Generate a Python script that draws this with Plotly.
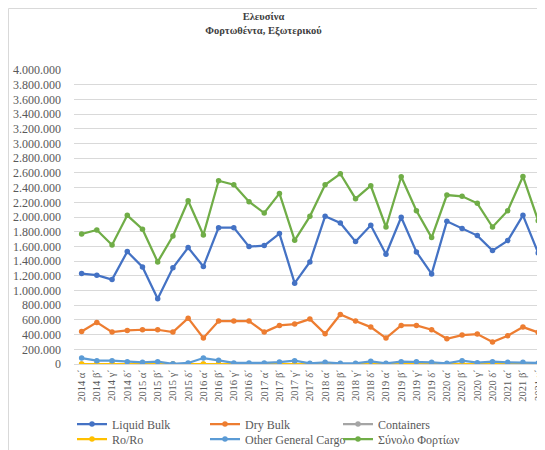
import plotly.graph_objects as go

categories = [
    "2014 α΄", "2014 β΄", "2014 γ΄", "2014 δ΄",
    "2015 α΄", "2015 β΄", "2015 γ΄", "2015 δ΄",
    "2016 α΄", "2016 β΄", "2016 γ΄", "2016 δ΄",
    "2017 α΄", "2017 β΄", "2017 γ΄", "2017 δ΄",
    "2018 α΄", "2018 β΄", "2018 γ΄", "2018 δ΄",
    "2019 α΄", "2019 β΄", "2019 γ΄", "2019 δ΄",
    "2020 α΄", "2020 β΄", "2020 γ΄", "2020 δ΄",
    "2021 α΄", "2021 β΄", "2021 γ΄", "2021 δ΄",
]
# the last category lies beyond the visible edge of the picture
visible_ticks = categories[:-1]

liquid_bulk = [1231000, 1208000, 1149000, 1529000, 1321000, 887000, 1308000, 1584000,
               1326000, 1855000, 1855000, 1597000, 1611000, 1774000, 1100000, 1389000,
               2009000, 1919000, 1665000, 1887000, 1493000, 1996000, 1525000, 1226000,
               1941000, 1842000, 1747000, 1543000, 1679000, 2023000, 1511000, 1690000]
dry_bulk = [443000, 566000, 434000, 457000, 466000, 466000, 434000, 624000,
            353000, 584000, 584000, 584000, 434000, 525000, 543000, 611000,
            412000, 674000, 584000, 502000, 353000, 525000, 525000, 466000,
            344000, 394000, 407000, 299000, 385000, 502000, 430000, 371000]
containers = [0] * 32
ro_ro = [0] * 32
other_general = [81000, 45000, 45000, 32000, 23000, 32000, 2000, 14000,
                 81000, 50000, 14000, 14000, 14000, 27000, 45000, 9000,
                 23000, 9000, 9000, 36000, 9000, 32000, 32000, 23000,
                 9000, 45000, 18000, 32000, 23000, 23000, 14000, 10000]
total = [1769000, 1824000, 1620000, 2023000, 1833000, 1389000, 1742000, 2222000,
         1756000, 2493000, 2439000, 2208000, 2054000, 2321000, 1683000, 2009000,
         2439000, 2588000, 2249000, 2425000, 1864000, 2548000, 2086000, 1720000,
         2299000, 2281000, 2186000, 1864000, 2086000, 2552000, 1950000, 2027000]

series_names = ["Liquid Bulk", "Dry Bulk", "Containers", "Ro/Ro",
                "Other General Cargo", "Σύνολο Φορτίων"]
series_values = [liquid_bulk, dry_bulk, containers, ro_ro, other_general, total]
series_colors = ["#4472C4", "#ED7D31", "#A5A5A5", "#FFC000", "#5B9BD5", "#70AD47"]
series_legends = ["legend", "legend", "legend", "legend2", "legend2", "legend2"]

y_ticks = list(range(0, 4000001, 200000))

# page body has an 8px margin: screen pixel = figure pixel + 8
OFF = 8
W, H = 553, 450
ML, MR, MT, MB = 74 - OFF, 0, 70 - OFF, H - (364 - OFF)
PW, PH = W - ML - MR, H - MT - MB

def sx(px):  # screen x -> paper x
    return (px - OFF - ML) / PW

def sy(py):  # screen y -> paper y
    return (H - MB - (py - OFF)) / PH

FONT = "Liberation Serif, Times New Roman, serif"
GREY = "#595959"

fig = go.Figure()
for name, vals, col, lg in zip(series_names, series_values, series_colors, series_legends):
    fig.add_trace(go.Scatter(
        x=categories, y=vals, name=name, mode="lines+markers",
        line=dict(color=col, width=2.25),
        marker=dict(color=col, size=5.5, symbol="circle"),
        legend=lg, cliponaxis=True,
    ))

fig.update_layout(
    width=W, height=H,
    margin=dict(l=ML, r=MR, t=MT, b=MB, pad=0, autoexpand=False),
    paper_bgcolor="white", plot_bgcolor="white",
    separators=",.",
    font=dict(family=FONT, color=GREY, size=12),
    title=dict(
        text="<b>Ελευσίνα<br>Φορτωθέντα, Εξωτερικού</b>",
        x=(263.5 - OFF) / W, xref="container", xanchor="center",
        y=1 - 12 / H, yref="container", yanchor="top",
        font=dict(family=FONT, size=10.5, color="#404040"),
    ),
    xaxis=dict(
        type="category", range=[-0.5, 31.5], automargin=False,
        tickmode="array", tickvals=visible_ticks, ticktext=visible_ticks,
        tickangle=-90, tickfont=dict(size=10.5, color=GREY, family=FONT),
        showgrid=False, showline=True, linecolor="#D9D9D9", linewidth=1,
        ticks="", zeroline=False,
    ),
    yaxis=dict(
        range=[0, 4000000], tickmode="array", tickvals=y_ticks, automargin=False,
        tickformat=",d", tickfont=dict(size=12, color=GREY, family=FONT),
        showgrid=True, gridcolor="#D9D9D9", gridwidth=1,
        zeroline=False, showline=False, ticks="", ticklabelstandoff=12,
    ),
    legend=dict(
        orientation="h", x=sx(72), xanchor="left", y=sy(424), yanchor="middle",
        entrywidth=88, entrywidthmode="pixels",
        font=dict(family=FONT, size=12, color=GREY),
        bgcolor="rgba(0,0,0,0)", tracegroupgap=0,
    ),
    legend2=dict(
        orientation="h", x=sx(72), xanchor="left", y=sy(439), yanchor="middle",
        entrywidth=88, entrywidthmode="pixels",
        font=dict(family=FONT, size=12, color=GREY),
        bgcolor="rgba(0,0,0,0)", tracegroupgap=0,
    ),
    shapes=[
        dict(type="line", xref="paper", yref="paper",
             x0=sx(8.5), x1=sx(8.5), y0=sy(460), y1=sy(8.5),
             line=dict(color="#D9D9D9", width=1), layer="below"),
        dict(type="line", xref="paper", yref="paper",
             x0=sx(8.5), x1=sx(570), y0=sy(8.5), y1=sy(8.5),
             line=dict(color="#D9D9D9", width=1), layer="below"),
    ],
)

fig.write_html("out.html")
